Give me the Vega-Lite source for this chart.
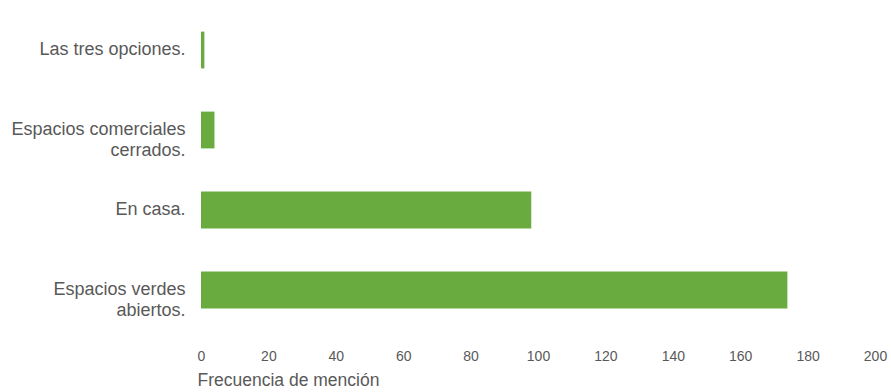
{
  "$schema": "https://vega.github.io/schema/vega-lite/v6.json",
  "width": 674,
  "height": 320,
  "autosize": {"type": "none"},
  "padding": {"left": 201, "top": 10, "right": 16, "bottom": 62},
  "background": "white",
  "data": {
    "values": [
      {"opcion": "Las tres opciones.", "frecuencia": 1, "orden": 1},
      {"opcion": "Espacios comerciales|cerrados.", "frecuencia": 4, "orden": 2},
      {"opcion": "En casa.", "frecuencia": 98, "orden": 3},
      {"opcion": "Espacios verdes|abiertos.", "frecuencia": 174, "orden": 4}
    ]
  },
  "mark": {"type": "bar", "color": "#6AAB40"},
  "encoding": {
    "y": {
      "field": "opcion",
      "type": "nominal",
      "sort": {"field": "orden", "order": "ascending"},
      "scale": {"paddingInner": 0.54, "paddingOuter": 0.27},
      "axis": {
        "title": null,
        "domain": false,
        "ticks": false,
        "labelPadding": 16,
        "labelAlign": "right",
        "labelFont": "Liberation Sans",
        "labelFontSize": 18,
        "labelColor": "#595959",
        "labelLineHeight": 21,
        "labelLimit": 300,
        "labelExpr": "split(datum.label, '|')"
      }
    },
    "x": {
      "field": "frecuencia",
      "type": "quantitative",
      "scale": {"domain": [0, 200], "nice": false},
      "axis": {
        "values": [0, 20, 40, 60, 80, 100, 120, 140, 160, 180, 200],
        "grid": false,
        "domain": false,
        "ticks": false,
        "labelPadding": 19,
        "labelFont": "Liberation Sans",
        "labelFontSize": 14,
        "labelColor": "#595959",
        "labelFlush": false,
        "title": "Frecuencia de mención",
        "titleFont": "Liberation Sans",
        "titleFontSize": 17.5,
        "titleFontWeight": "normal",
        "titleColor": "#595959",
        "titleAnchor": "start",
        "titleAlign": "left",
        "titleX": -4,
        "titlePadding": 8
      }
    }
  },
  "config": {"view": {"stroke": null}}
}
